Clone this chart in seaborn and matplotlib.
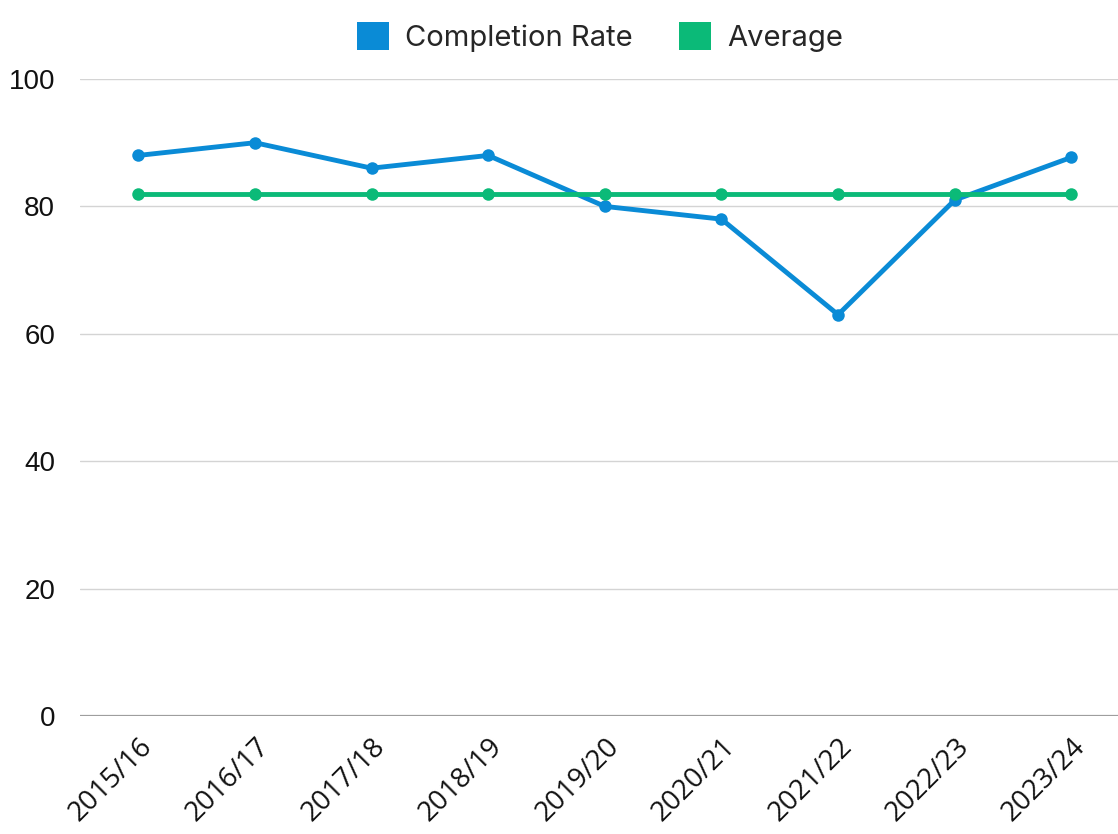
import matplotlib
matplotlib.use("Agg")
import matplotlib.pyplot as plt
from matplotlib.patches import Patch
import seaborn as sns
import pandas as pd

years = ["2015/16", "2016/17", "2017/18", "2018/19", "2019/20",
         "2020/21", "2021/22", "2022/23", "2023/24"]
completion_rate = [88, 90, 86, 88, 80, 78, 63, 81, 87.7]
average = [82, 82, 82, 82, 82, 82, 82, 82, 82]
y_ticks = [0, 20, 40, 60, 80, 100]

blue = "#0a8bd6"
green = "#0bba78"

sns.set_theme(style="white")
plt.rcParams['font.family'] = ['Liberation Sans', 'DejaVu Sans']

df = pd.DataFrame({
    "x": list(range(len(years))) * 2,
    "value": completion_rate + average,
    "series": ["Completion Rate"] * len(years) + ["Average"] * len(years),
})

fig = plt.figure(figsize=(11.18, 8.34), dpi=100)
ax = fig.add_axes([80 / 1118, 1 - 716 / 834, 1 - 80 / 1118, (716 - 79) / 834])

sns.lineplot(data=df, x="x", y="value", hue="series",
             palette={"Completion Rate": blue, "Average": green},
             hue_order=["Completion Rate", "Average"],
             marker="o", markersize=9, markeredgewidth=0,
             linewidth=3.5, legend=False, ax=ax, zorder=3)

ax.set_xlim(-0.5, 8.4)
ax.set_ylim(0, 100)
ax.set_yticks(y_ticks)
ax.set_yticklabels([str(t) for t in y_ticks], fontsize=20, color="#111111")
ax.set_xticks(range(len(years)))
ax.set_xticklabels(years, rotation=45, ha="right", rotation_mode="anchor",
                   fontsize=20, color="#111111",
                   family=["Open Sans", "DejaVu Sans"])
ax.tick_params(axis="both", length=0)
ax.tick_params(axis="y", pad=18)
ax.tick_params(axis="x", pad=12)
ax.set_xlabel("")
ax.set_ylabel("")
for s in ax.spines.values():
    s.set_visible(False)
ax.grid(axis="y", color="#d4d4d4", linewidth=1)
ax.grid(axis="x", visible=False)
ax.axhline(0, color="#9e9e9e", linewidth=1.6, zorder=2)

handles = [Patch(facecolor=blue, edgecolor="none", label="Completion Rate"),
           Patch(facecolor=green, edgecolor="none", label="Average")]
fig.legend(handles=handles, loc="center", bbox_to_anchor=(600 / 1118, 1 - 37 / 834),
           ncol=2, frameon=False, handlelength=1.1, handleheight=1.1,
           handletextpad=0.55, columnspacing=1.6,
           prop={"family": ["Inter", "DejaVu Sans"], "size": 21})

fig.savefig("out.png", dpi=100)
